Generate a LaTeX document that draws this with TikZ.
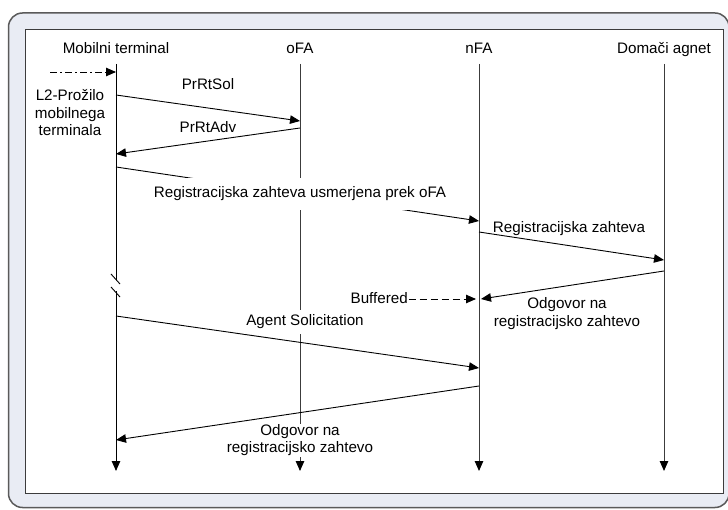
\documentclass[tikz,border=0pt]{standalone}
\usepackage{fontspec}
\setmainfont{Liberation Sans}
\usetikzlibrary{arrows.meta}
\definecolor{panelfill}{HTML}{E9ECF4}
\definecolor{panelline}{HTML}{5A5A5A}
\definecolor{lifegray}{HTML}{3C3C3C}
\begin{document}
\begin{tikzpicture}[x=1pt,y=-1pt,
  font=\fontsize{15.2}{17.5}\selectfont,
  tip/.style={-{Triangle[length=10pt,width=8.5pt,color=black]}},
  msg/.style={tip,line width=0.9pt,black},
  life/.style={line width=1pt,lifegray},
  lbl/.style={inner sep=0pt,text height=10.8pt,text depth=3pt,anchor=base},
  boxlbl/.style={lbl,fill=white,inner xsep=2pt},
  multi/.style={align=center,inner sep=0pt,anchor=center}]
\useasboundingbox (0,0) rectangle (728,510);
% panel frame
\draw[panelline,line width=1.5pt,fill=panelfill,rounded corners=14pt]
  (8.5,13) rectangle (729,507.5);
\draw[lifegray,line width=1pt,fill=white] (25,30) rectangle (723.5,493);

% participants
\node[lbl] (hMT) at (116,53.5) {Mobilni terminal};
\node[lbl] (hOFA) at (300,53.5) {oFA};
\node[lbl] (hNFA) at (479,53.5) {nFA};
\node[lbl] (hHA) at (664,53.5) {Domači agnet};

% lifeline ends
\coordinate (mtT) at (116,64);  \coordinate (mtB) at (116,471);
\coordinate (ofT) at (300,64);  \coordinate (ofB) at (300,471);
\coordinate (nfT) at (479,64);  \coordinate (nfB) at (479,471);
\coordinate (haT) at (664,64);  \coordinate (haB) at (664,471);
\coordinate (brkA) at (116,280); \coordinate (brkB) at (116,291);

\draw[life,black] (mtT) -- (brkA);
\draw[life,black,tip] (brkB) -- (mtB);
\draw[life,tip] (ofT) -- (ofB);
\draw[life,tip] (nfT) -- (nfB);
\draw[life,tip] (haT) -- (haB);

% break mark on the terminal's lifeline
\coordinate (s1a) at (111,274); \coordinate (s1b) at (120,284);
\coordinate (s2a) at (111,287); \coordinate (s2b) at (120,297);
\draw[line width=0.9pt] (s1a) -- (s1b) (s2a) -- (s2b);

% L2 trigger
\coordinate (trg) at (50,72); \coordinate (trgE) at (116,72);
\draw[msg,dash pattern=on 6.5pt off 3.5pt on 1.5pt off 3.5pt] (trg) -- (trgE);
\node[multi] (l2) at (70,112.75) {L2-Prožilo\\mobilnega\\terminala};

% message end points
\coordinate (a1) at (116,95);  \coordinate (b1) at (300,121);
\coordinate (a2) at (300,128); \coordinate (b2) at (116,154);
\coordinate (a3) at (116,167); \coordinate (b3) at (479,221);
\coordinate (a4) at (479,232); \coordinate (b4) at (664,260);
\coordinate (a5) at (664,271); \coordinate (b5) at (481,299);
\coordinate (b6) at (476,299);
\coordinate (a7) at (116,316); \coordinate (b7) at (479,368);
\coordinate (a8) at (479,386); \coordinate (b8) at (116,440);

\draw[msg] (a1) -- (b1);
\node[lbl] (m1) at (208,90) {PrRtSol};
\draw[msg] (a2) -- (b2);
\node[lbl] (m2) at (208,133) {PrRtAdv};
\draw[msg] (a3) -- (b3);
\node[boxlbl,inner ysep=9.5pt] (m3) at (300,198) {Registracijska zahteva usmerjena prek oFA};
\draw[msg] (a4) -- (b4);
\node[lbl] (m4) at (569,232.7) {Registracijska zahteva};
\draw[msg] (a5) -- (b5);
\node[multi] (m5) at (567,313.5) {Odgovor na\\registracijsko zahtevo};
\node[lbl,anchor=base east] (buf) at (408,304) {Buffered};
\draw[msg,dash pattern=on 7pt off 4pt] (buf.base east) ++(0.5,-5) -- (b6);
\draw[msg] (a7) -- (b7);
\node[boxlbl,inner ysep=5.5pt] (m7) at (305,326) {Agent Solicitation};
\draw[msg] (a8) -- (b8);
\node[multi,fill=white,inner xsep=0pt,minimum height=33pt] (m8) at (300,440) {Odgovor na\\registracijsko zahtevo};
\end{tikzpicture}
\end{document}
